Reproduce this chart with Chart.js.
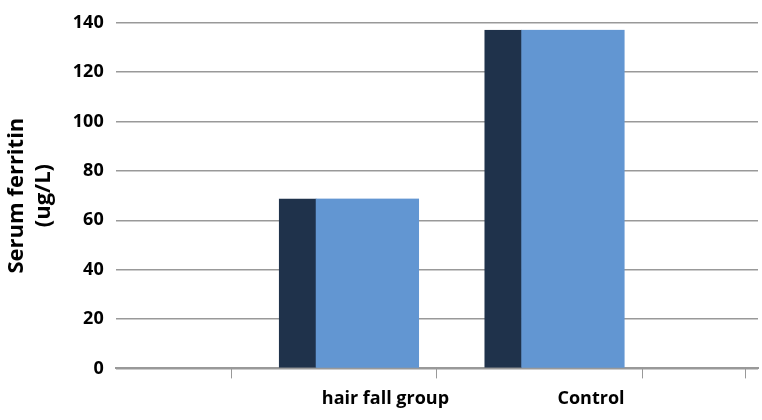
<!DOCTYPE html><html><head><meta charset="utf-8">
<script src="https://cdn.jsdelivr.net/npm/chart.js@4"></script>
<style>body{margin:0;background:#fff}#w{width:762px;height:420px}</style></head><body>
<div id="w"><canvas id="c"></canvas></div>
<script>
const categories=["hair fall group","Control"];
const values=[68.8,137.2];
const yTicks=[0,20,40,60,80,100,120,140];
const catPos=[1,2];
const barCenters=[0.823,1.823];
new Chart(document.getElementById('c'),{type:'bar',
data:{datasets:[{data:values.map((v,i)=>({x:barCenters[i],y:v})),backgroundColor:'#6296d2',
borderColor:'#1f324b',borderWidth:{left:37,right:0,top:0,bottom:0},borderSkipped:false,barThickness:140}]},
options:{responsive:true,maintainAspectRatio:false,animation:false,
layout:{padding:{top:11,right:4,left:0,bottom:0}},
plugins:{legend:{display:false},tooltip:{enabled:false}},
scales:{x:{type:'linear',min:0,max:2.5,afterBuildTicks:a=>{a.ticks=[0.5,1,1.5,2,2.5].map(v=>({value:v}))},
grid:{drawOnChartArea:false,tickLength:10,tickColor:c=>(c.tick&&Number.isInteger(c.tick.value))?'rgba(0,0,0,0)':'#999',color:'#999'},
border:{color:'#999',width:2},
ticks:{autoSkip:false,maxRotation:0,padding:10,color:'#000',font:{family:'Open Sans',weight:'bold',size:18},
callback:v=>{const i=catPos.indexOf(v);return i>=0?categories[i]:''}}},
y:{min:0,max:140,afterBuildTicks:a=>{a.ticks=yTicks.map(v=>({value:v}))},
grid:{color:'#999',lineWidth:1.5,drawTicks:false},border:{display:false},
ticks:{padding:12,color:'#000',font:{family:'Open Sans',weight:'bold',size:18}},
title:{display:true,text:['Serum ferritin','(ug/L)'],color:'#000',font:{family:'Open Sans',weight:'bold',size:22,lineHeight:1.2}}}}}});
</script></body></html>
